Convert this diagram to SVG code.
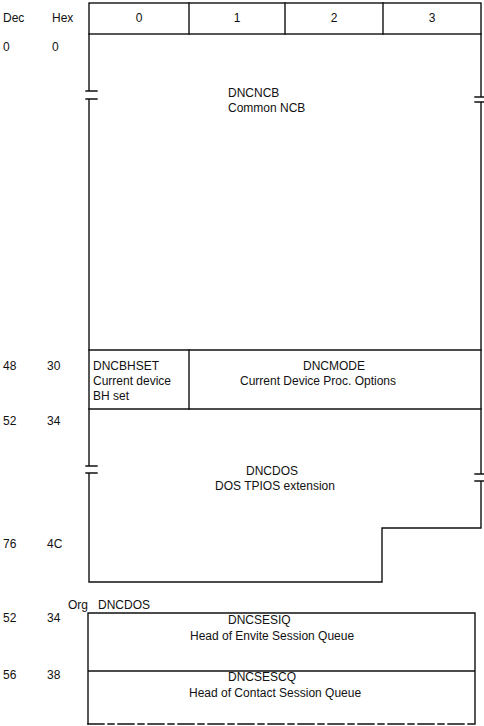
<svg xmlns="http://www.w3.org/2000/svg" width="484" height="726" viewBox="0 0 484 726">
<style>
text{font-family:"Liberation Sans","DejaVu Sans",sans-serif;font-size:12px;fill:#111;}
.c{text-anchor:middle;}
.ln{stroke:#111;stroke-width:1.4;fill:none;stroke-linecap:square;}
</style>
<rect width="484" height="726" fill="#fff"/>
<g id="offsets">
<text x="3" y="22">Dec</text><text x="52" y="22">Hex</text>
<text x="3" y="51">0</text><text x="52" y="51">0</text>
<text x="3" y="370">48</text><text x="47" y="370">30</text>
<text x="3" y="425">52</text><text x="47" y="425">34</text>
<text x="3" y="548">76</text><text x="47" y="548">4C</text>
<text x="3" y="622">52</text><text x="47" y="622">34</text>
<text x="3" y="679">56</text><text x="47" y="679">38</text>
</g>
<g id="header">
<rect class="ln" x="89" y="3" width="392" height="31"/>
<line class="ln" x1="189" y1="3" x2="189" y2="34"/>
<line class="ln" x1="285" y1="3" x2="285" y2="34"/>
<line class="ln" x1="383" y1="3" x2="383" y2="34"/>
<text class="c" x="139" y="22">0</text>
<text class="c" x="237" y="22">1</text>
<text class="c" x="334" y="22">2</text>
<text class="c" x="432" y="22">3</text>
</g>
<g id="outline">
<path class="ln" d="M89 34 V91 M86 91 H97 M86 99 H97 M89 99 V466 M86 466 H97 M86 473 H97 M89 473 V582 H382 V528 H481 V481 M475 481 H484 M475 474 H484 M481 474 V102 M475 102 H484 M475 97 H484 M481 97 V34"/>
</g>
<g id="dncncb">
<text x="228" y="97">DNCNCB</text>
<text x="228" y="112">Common NCB</text>
</g>
<g id="row48">
<line class="ln" x1="89" y1="350" x2="481" y2="350"/>
<line class="ln" x1="89" y1="409" x2="481" y2="409"/>
<line class="ln" x1="189" y1="350" x2="189" y2="409"/>
</g>
<g id="dncbhset">
<text x="93" y="370">DNCBHSET</text>
<text x="93" y="385">Current device</text>
<text x="93" y="400">BH set</text>
</g>
<g id="dncmode">
<text class="c" x="334" y="370">DNCMODE</text>
<text class="c" x="318" y="385">Current Device Proc. Options</text>
</g>
<g id="dncdos">
<text class="c" x="272" y="475">DNCDOS</text>
<text class="c" x="275" y="490">DOS TPIOS extension</text>
</g>
<g id="org">
<text x="68" y="609">Org</text>
<text x="98" y="609">DNCDOS</text>
</g>
<g id="queues">
<path class="ln" d="M88 613 H475 V724 M88 613 V724 M88 671 H475"/>
<line class="ln" x1="88" y1="724" x2="475" y2="724" stroke-dasharray="16 4 6 4"/>
</g>
<g id="dncsesiq">
<text x="228" y="624">DNCSESIQ</text>
<text x="190" y="640">Head of Envite Session Queue</text>
</g>
<g id="dncsescq">
<text x="228" y="681">DNCSESCQ</text>
<text x="189" y="697">Head of Contact Session Queue</text>
</g>
</svg>
